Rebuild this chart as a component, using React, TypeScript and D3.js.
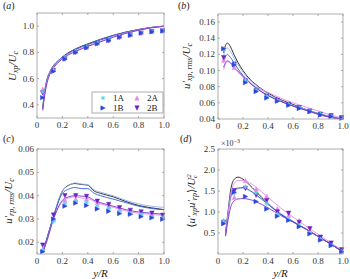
import React from "react";
import * as d3 from "d3";

// ---------- DATA ----------
const markerX = [0.045, 0.13, 0.22, 0.305, 0.39, 0.475, 0.565, 0.65, 0.735, 0.82, 0.905, 0.99];
const seriesNames = ["1A", "1B", "2A", "2B"];
const lineNames = ["black", "lightblue", "blue", "pink", "purple"];
const xTicks = [0, 0.2, 0.4, 0.6, 0.8, 1.0];

// panel (a)
const aLineX = [0.045, 0.06, 0.08, 0.1, 0.13, 0.17, 0.22, 0.3, 0.4, 0.5, 0.6, 0.7, 0.8, 0.9, 1.0];
const aBlack = [0.38, 0.5, 0.6, 0.65, 0.7, 0.74, 0.78, 0.825, 0.865, 0.9, 0.93, 0.955, 0.975, 0.99, 1.0];
const aLightBlue = [0.37, 0.5, 0.6, 0.65, 0.695, 0.74, 0.775, 0.82, 0.86, 0.895, 0.926, 0.952, 0.972, 0.99, 1.0];
const aBlue = [0.37, 0.49, 0.59, 0.64, 0.69, 0.735, 0.775, 0.82, 0.86, 0.895, 0.927, 0.953, 0.973, 0.99, 1.0];
const aPink = [0.36, 0.48, 0.58, 0.635, 0.685, 0.73, 0.77, 0.81, 0.85, 0.885, 0.92, 0.948, 0.97, 0.988, 1.0];
const aPurple = [0.36, 0.47, 0.57, 0.63, 0.68, 0.725, 0.765, 0.805, 0.845, 0.88, 0.915, 0.945, 0.968, 0.987, 0.998];
const a1A = [0.5, 0.665, 0.755, 0.805, 0.84, 0.87, 0.895, 0.918, 0.935, 0.95, 0.96, 0.965];
const a1B = [0.455, 0.655, 0.75, 0.8, 0.835, 0.865, 0.89, 0.915, 0.93, 0.947, 0.957, 0.963];
const a2A = [0.52, 0.67, 0.76, 0.81, 0.84, 0.872, 0.895, 0.92, 0.935, 0.95, 0.96, 0.966];
const a2B = [0.49, 0.66, 0.75, 0.8, 0.835, 0.867, 0.89, 0.915, 0.932, 0.947, 0.958, 0.963];
const aYTicks = [0.4, 0.6, 0.8, 1.0];

// panel (b)
const bLineX = [0.045, 0.06, 0.075, 0.09, 0.11, 0.13, 0.16, 0.2, 0.25, 0.3, 0.4, 0.5, 0.6, 0.7, 0.8, 0.9, 1.0];
const bBlack = [0.122, 0.131, 0.134, 0.132, 0.126, 0.119, 0.11, 0.1, 0.09, 0.083, 0.072, 0.064, 0.058, 0.052, 0.047, 0.043, 0.04];
const bLightBlue = [0.118, 0.126, 0.128, 0.126, 0.121, 0.115, 0.107, 0.098, 0.089, 0.082, 0.071, 0.063, 0.057, 0.052, 0.047, 0.043, 0.04];
const bBlue = [0.11, 0.117, 0.12, 0.118, 0.114, 0.109, 0.102, 0.094, 0.086, 0.079, 0.069, 0.062, 0.056, 0.051, 0.046, 0.042, 0.04];
const bPink = [0.101, 0.108, 0.111, 0.11, 0.107, 0.103, 0.098, 0.092, 0.086, 0.08, 0.073, 0.066, 0.06, 0.055, 0.05, 0.045, 0.041];
const bPurple = [0.104, 0.11, 0.112, 0.111, 0.108, 0.104, 0.099, 0.093, 0.085, 0.079, 0.069, 0.062, 0.056, 0.051, 0.046, 0.042, 0.04];
const b1A = [0.127, 0.108, 0.088, 0.076, 0.068, 0.063, 0.058, 0.054, 0.05, 0.046, 0.0435, 0.041];
const b1B = [0.127, 0.107, 0.085, 0.074, 0.066, 0.062, 0.057, 0.053, 0.049, 0.045, 0.043, 0.041];
const b2A = [0.113, 0.104, 0.089, 0.0765, 0.069, 0.064, 0.059, 0.055, 0.05, 0.046, 0.044, 0.042];
const b2B = [0.116, 0.108, 0.087, 0.0755, 0.068, 0.063, 0.058, 0.054, 0.0498, 0.0457, 0.044, 0.0415];
const bYTicks = [0.04, 0.06, 0.08, 0.1, 0.12, 0.14, 0.16];

// panel (c)
const cLineX = [0.045, 0.08, 0.13, 0.2, 0.25, 0.3, 0.35, 0.4, 0.45, 0.5, 0.6, 0.7, 0.8, 0.9, 1.0];
const cBlack = [0.0155, 0.022, 0.031, 0.042, 0.0445, 0.0452, 0.0448, 0.0445, 0.042, 0.041, 0.0395, 0.0375, 0.0358, 0.0348, 0.034];
const cLightBlue = [0.0155, 0.022, 0.031, 0.042, 0.0443, 0.0455, 0.045, 0.0447, 0.0425, 0.0415, 0.04, 0.038, 0.0365, 0.0355, 0.035];
const cBlue = [0.0155, 0.022, 0.031, 0.041, 0.0428, 0.0435, 0.043, 0.043, 0.041, 0.04, 0.0385, 0.037, 0.0355, 0.0345, 0.034];
const cPink = [0.0155, 0.021, 0.03, 0.0375, 0.039, 0.0395, 0.039, 0.0388, 0.0375, 0.0365, 0.035, 0.0335, 0.0325, 0.032, 0.0315];
const cPurple = [0.0155, 0.021, 0.03, 0.038, 0.0395, 0.04, 0.0398, 0.0395, 0.038, 0.037, 0.0355, 0.034, 0.033, 0.0325, 0.032];
const c1A = [0.0165, 0.029, 0.0365, 0.0375, 0.037, 0.0355, 0.0345, 0.0335, 0.0325, 0.032, 0.031, 0.0305];
const c1B = [0.016, 0.03, 0.0355, 0.0368, 0.0358, 0.0343, 0.0333, 0.0323, 0.032, 0.031, 0.0305, 0.0299];
const c2A = [0.017, 0.03, 0.038, 0.0385, 0.0385, 0.037, 0.0355, 0.034, 0.033, 0.0325, 0.032, 0.031];
const c2B = [0.0188, 0.0317, 0.04, 0.04, 0.0397, 0.0376, 0.0362, 0.0348, 0.0337, 0.033, 0.0325, 0.0316];
const cYTicks = [0.02, 0.03, 0.04, 0.05, 0.06];

// panel (d) (values x 1e-3)
const dLineX = [0.06, 0.08, 0.1, 0.13, 0.16, 0.2, 0.25, 0.3, 0.4, 0.5, 0.6, 0.7, 0.8, 0.9, 1.0];
const dBlack = [0.5, 1.0, 1.5, 1.78, 1.83, 1.78, 1.65, 1.5, 1.2, 0.95, 0.77, 0.6, 0.42, 0.24, 0.05];
const dLightBlue = [0.45, 0.9, 1.3, 1.5, 1.55, 1.57, 1.52, 1.42, 1.2, 0.97, 0.78, 0.6, 0.42, 0.24, 0.06];
const dBlue = [0.45, 0.95, 1.35, 1.53, 1.57, 1.58, 1.52, 1.42, 1.18, 0.95, 0.77, 0.6, 0.42, 0.24, 0.05];
const dPink = [0.45, 0.95, 1.4, 1.68, 1.75, 1.75, 1.7, 1.6, 1.35, 1.1, 0.88, 0.67, 0.47, 0.27, 0.08];
const dPurple = [0.42, 0.8, 1.1, 1.27, 1.31, 1.32, 1.3, 1.25, 1.1, 0.92, 0.76, 0.6, 0.42, 0.24, 0.05];
const d1A = [0.78, 1.45, 1.6, 1.45, 1.2, 0.95, 0.82, 0.68, 0.5, 0.35, 0.2, 0.06];
const d1B = [0.72, 1.47, 1.37, 1.25, 1.07, 0.9, 0.8, 0.65, 0.48, 0.33, 0.2, 0.05];
const d2A = [0.8, 1.35, 1.75, 1.55, 1.37, 1.08, 0.92, 0.8, 0.55, 0.38, 0.24, 0.1];
const d2B = [0.75, 1.51, 1.56, 1.4, 1.27, 1.0, 0.97, 0.75, 0.6, 0.4, 0.26, 0.1];
const dYTicks = [0.5, 1.0, 1.5, 2.0, 2.5];

// ---------- STYLE ----------
const lineColors: Record<string, string> = {
  black: "#1a1a1a",
  lightblue: "#9ab4ee",
  blue: "#2f5fd6",
  pink: "#e48ae8",
  purple: "#7a35c9",
};
const markerColors: Record<string, string> = {
  "1A": "#55d6e6",
  "1B": "#2a44e0",
  "2A": "#e98ae6",
  "2B": "#6a22c2",
};
const FONT = "'Liberation Serif', 'DejaVu Serif', serif";

function Marker({ name, x, y }: { name: string; x: number; y: number }) {
  const c = markerColors[name];
  const s = 2.2;
  if (name === "1A") {
    return (
      <g stroke={c} strokeWidth={0.9}>
        <line x1={x - s} y1={y} x2={x + s} y2={y} />
        <line x1={x} y1={y - s} x2={x} y2={y + s} />
        <line x1={x - s * 0.7} y1={y - s * 0.7} x2={x + s * 0.7} y2={y + s * 0.7} />
        <line x1={x - s * 0.7} y1={y + s * 0.7} x2={x + s * 0.7} y2={y - s * 0.7} />
      </g>
    );
  }
  let pts = "";
  if (name === "1B") pts = `${x - s},${y - s} ${x + s},${y} ${x - s},${y + s}`;
  if (name === "2A") pts = `${x},${y - s} ${x + s},${y + s} ${x - s},${y + s}`;
  if (name === "2B") pts = `${x - s},${y - s} ${x + s},${y - s} ${x},${y + s}`;
  return <polygon points={pts} fill={c} stroke={c} strokeWidth={0.5} />;
}

type PanelProps = {
  x0: number; x1: number; y0: number; y1: number;
  yDomain: [number, number];
  yTicks: number[];
  yFmt: (v: number) => string;
  lineX: number[];
  lines: number[][];
  markers: number[][];
  xLabel?: boolean;
};

function Panel(p: PanelProps) {
  const xs = d3.scaleLinear().domain([0, 1]).range([p.x0, p.x1]);
  const ys = d3.scaleLinear().domain(p.yDomain).range([p.y1, p.y0]);
  const gen = d3
    .line<number>()
    .x((_, i) => xs(p.lineX[i]))
    .y((d) => ys(d))
    .curve(d3.curveMonotoneX);
  const axisC = "#9a9a9a";
  return (
    <g>
      {p.lines.map((l, i) => (
        <path key={i} d={gen(l) || ""} fill="none" stroke={lineColors[lineNames[i]]} strokeWidth={0.9} />
      ))}
      {[2, 3, 0, 1].map((si) =>
        p.markers[si].map((v, j) => (
          <Marker key={si + "-" + j} name={seriesNames[si]} x={xs(markerX[j])} y={ys(v)} />
        ))
      )}
      <rect x={p.x0} y={p.y0} width={p.x1 - p.x0} height={p.y1 - p.y0} fill="none" stroke={axisC} strokeWidth={0.8} />
      {xTicks.map((t) => (
        <g key={"xt" + t}>
          <line x1={xs(t)} x2={xs(t)} y1={p.y1} y2={p.y1 - 2} stroke={axisC} strokeWidth={0.8} />
          <line x1={xs(t)} x2={xs(t)} y1={p.y0} y2={p.y0 + 2} stroke={axisC} strokeWidth={0.8} />
          <text x={xs(t)} y={p.y1 + 10} textAnchor="middle" fontSize={9} fontFamily={FONT} fill="#333">
            {t === 0 ? "0" : t.toFixed(1)}
          </text>
        </g>
      ))}
      {p.yTicks.map((t) => (
        <g key={"yt" + t}>
          <line x1={p.x0} x2={p.x0 + 2} y1={ys(t)} y2={ys(t)} stroke={axisC} strokeWidth={0.8} />
          <line x1={p.x1} x2={p.x1 - 2} y1={ys(t)} y2={ys(t)} stroke={axisC} strokeWidth={0.8} />
          <text x={p.x0 - 3} y={ys(t) + 3} textAnchor="end" fontSize={9} fontFamily={FONT} fill="#333">
            {p.yFmt(t)}
          </text>
        </g>
      ))}
      {p.xLabel && (
        <text x={(p.x0 + p.x1) / 2} y={p.y1 + 23} textAnchor="middle" fontSize={11} fontFamily={FONT} fontStyle="italic" fill="#222">
          y/R
        </text>
      )}
    </g>
  );
}

function SubLabel({ x, y, children }: { x: number; y: number; children: React.ReactNode }) {
  return (
    <text transform={`translate(${x},${y}) rotate(-90)`} textAnchor="middle" fontSize={11} fontFamily={FONT} fontStyle="italic" fill="#222">
      {children}
    </text>
  );
}

export default function App() {
  const f2 = (v: number) => v.toFixed(2);
  const f1 = (v: number) => v.toFixed(1);
  return (
    <svg width={350} height={279} style={{ position: "absolute", left: 0, top: 0, background: "#fff" }}>
      {/* panel labels */}
      {[
        ["a", 3, 9],
        ["b", 178, 9],
        ["c", 3, 142],
        ["d", 180, 142],
      ].map(([l, x, y]) => (
        <text key={l as string} x={x as number} y={y as number} fontSize={10} fontFamily={FONT} fill="#222">
          (<tspan fontStyle="italic">{l}</tspan>)
        </text>
      ))}

      <Panel x0={37} x1={164} y0={13} y1={118} yDomain={[0.3, 1.1]} yTicks={aYTicks} yFmt={f1}
        lineX={aLineX} lines={[aBlack, aLightBlue, aBlue, aPink, aPurple]} markers={[a1A, a1B, a2A, a2B]} />
      <Panel x0={218} x1={343} y0={14} y1={119} yDomain={[0.04, 0.17]} yTicks={bYTicks} yFmt={f2}
        lineX={bLineX} lines={[bBlack, bLightBlue, bBlue, bPink, bPurple]} markers={[b1A, b1B, b2A, b2B]} />
      <Panel x0={37} x1={164} y0={149} y1={254} yDomain={[0.015, 0.06]} yTicks={cYTicks} yFmt={f2}
        lineX={cLineX} lines={[cBlack, cLightBlue, cBlue, cPink, cPurple]} markers={[c1A, c1B, c2A, c2B]} xLabel />
      <Panel x0={218} x1={343} y0={149} y1={254} yDomain={[0, 2.5]} yTicks={dYTicks} yFmt={f1}
        lineX={dLineX} lines={[dBlack, dLightBlue, dBlue, dPink, dPurple]} markers={[d1A, d1B, d2A, d2B]} xLabel />

      {/* legend in (a) */}
      <g>
        <rect x={92} y={92} width={71} height={21} fill="#fff" stroke="#9a9a9a" strokeWidth={0.8} />
        {seriesNames.map((n, i) => {
          const col = i % 2 === 0 ? 0 : 1;
          const lx = 103 + (i >= 2 ? 34 : 0);
          const ly = 98 + col * 10;
          return (
            <g key={n}>
              <Marker name={n} x={lx} y={ly} />
              <text x={lx + 10} y={ly + 3} fontSize={9} fontFamily={FONT} fill="#222">{n}</text>
            </g>
          );
        })}
      </g>

      {/* y labels */}
      <SubLabel x={16} y={66}>
        U<tspan fontSize={8} dy={2}>xp</tspan><tspan dy={-2}>/U</tspan><tspan fontSize={8} dy={2}>c</tspan>
      </SubLabel>
      <SubLabel x={190} y={66}>
        u′<tspan fontSize={8} dy={2}>xp, rms</tspan><tspan dy={-2}>/U</tspan><tspan fontSize={8} dy={2}>c</tspan>
      </SubLabel>
      <SubLabel x={12} y={201}>
        u′<tspan fontSize={8} dy={2}>rp, rms</tspan><tspan dy={-2}>/U</tspan><tspan fontSize={8} dy={2}>c</tspan>
      </SubLabel>
      <SubLabel x={195} y={201}>
        <tspan fontStyle="normal">⟨</tspan>u′<tspan fontSize={8} dy={2}>xp</tspan><tspan dy={-2}>u′</tspan><tspan fontSize={8} dy={2}>rp</tspan><tspan dy={-2} fontStyle="normal">⟩</tspan>/U<tspan fontSize={7} dy={-4}>2</tspan><tspan fontSize={7} dx={-4} dy={6}>c</tspan>
      </SubLabel>
      <text x={221} y={146} fontSize={8} fontFamily={FONT} fill="#333">
        ×10<tspan fontSize={6} dy={-3}>−3</tspan>
      </text>
    </svg>
  );
}
